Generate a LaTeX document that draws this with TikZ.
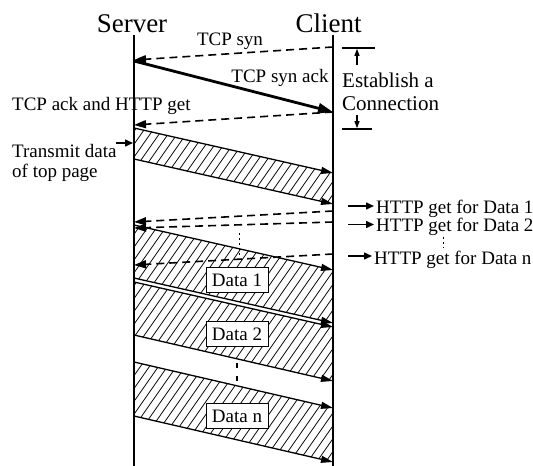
\documentclass[tikz,border=0pt]{standalone}
\usepackage{fontspec}
\setmainfont{Liberation Serif}
\usetikzlibrary{arrows.meta}
\begin{document}
\begin{tikzpicture}[x=1pt,y=-1pt,
  lbl/.style={inner sep=0pt,font=\fontsize{19}{21}\selectfont},
  biglbl/.style={inner sep=0pt,font=\fontsize{21}{23}\selectfont},
  ttl/.style={inner sep=0pt,font=\fontsize{27}{30}\selectfont},
  life/.style={line width=2pt},
  msg/.style={line width=1.6pt,dash pattern=on 8pt off 5pt,-{Triangle[length=12pt,width=8pt]}},
  synack/.style={line width=2.8pt,-{Triangle[length=15pt,width=10pt]}},
  dat/.style={line width=1.3pt,-{Triangle[length=12pt,width=7pt]}},
  hatchline/.style={line width=0.75pt},
  ptr/.style={line width=1.5pt,-{Triangle[length=8pt,width=7pt]}},
  brk/.style={line width=1.6pt},
  brkarrow/.style={line width=1.2pt,-{Triangle[length=7pt,width=5pt]}},
  databox/.style={draw,fill=white,line width=0.8pt,inner sep=0pt,minimum width=62pt,minimum height=25pt,font=\fontsize{19}{21}\selectfont},
  dots/.style={line width=0.8pt,dash pattern=on 2pt off 3pt}
]
\useasboundingbox (0,0) rectangle (533,466);

% titles
\node[ttl,anchor=base] (srv) at (132,32) {Server};
\node[ttl,anchor=base] (cli) at (328.5,32) {Client};

% lifeline coordinates
\coordinate (stop) at (134,35);
\coordinate (sbot) at (134,466);
\coordinate (ctop) at (333,35);
\coordinate (cbot) at (333,466);

% block corner coordinates
\coordinate (b0a) at (134,128); \coordinate (b0b) at (333,173);
\coordinate (b0c) at (134,159); \coordinate (b0d) at (333,204);
\coordinate (b1a) at (134,225); \coordinate (b1b) at (333,270);
\coordinate (b1c) at (134,278); \coordinate (b1d) at (333,323);
\coordinate (b2a) at (134,282); \coordinate (b2b) at (333,327);
\coordinate (b2c) at (134,335); \coordinate (b2d) at (333,381);
\coordinate (bna) at (134,362); \coordinate (bnb) at (333,408);
\coordinate (bnc) at (134,416); \coordinate (bnd) at (333,462);

% hatching
\begin{scope}
  \clip (b0a) -- (b0b) -- (b0d) -- (b0c) -- cycle
        (b1a) -- (b1b) -- (b1d) -- (b1c) -- cycle
        (b2a) -- (b2b) -- (b2d) -- (b2c) -- cycle
        (bna) -- (bnb) -- (bnd) -- (bnc) -- cycle;
  \foreach \k in {0,...,65} {
    \draw[hatchline] (-220+9*\k,470) -- ++(329,-470);
  }
\end{scope}

% block edges
\draw[dat] (b0a) -- (b0b);
\draw[dat] (b0c) -- (b0d);
\draw[dat] (b1a) -- (b1b);
\draw[dat] (b1c) -- (b1d);
\draw[dat] (b2a) -- (b2b);
\draw[dat] (b2c) -- (b2d);
\draw[dat] (bna) -- (bnb);
\draw[dat] (bnc) -- (bnd);

% handshake messages
\coordinate (syn0) at (333,47);   \coordinate (syn1) at (134,60);
\coordinate (sa0) at (134,61);    \coordinate (sa1) at (333,112);
\coordinate (ack0) at (333,112);  \coordinate (ack1) at (134,125);
\draw[msg] (syn0) -- (syn1);
\draw[synack] (sa0) -- (sa1);
\draw[msg] (ack0) -- (ack1);

% HTTP gets
\coordinate (g10) at (333,211);  \coordinate (g11) at (134,222);
\coordinate (g20) at (333,222);  \coordinate (g21) at (134,228);
\coordinate (gn0) at (333,254);  \coordinate (gn1) at (134,265);
\draw[msg] (g10) -- (g11);
\draw[msg] (g20) -- (g21);
\draw[msg] (gn0) -- (gn1);
\coordinate (vd0) at (239,233); \coordinate (vd1) at (239,258);
\draw[dots] (vd0) -- (vd1);

% lifelines
\draw[life] (stop) -- (sbot);
\draw[life] (ctop) -- (cbot);

% labels
\node[lbl,anchor=base] (lsyn) at (230,45.5) {TCP syn};
\node[lbl,anchor=base] (lsa) at (280,82) {TCP syn ack};
\node[lbl,anchor=base west] (lack) at (12,110) {TCP ack and HTTP get};
\node[biglbl,anchor=base west] (lest) at (342,87) {Establish a};
\node[biglbl,anchor=base west] (lcon) at (342,110) {Connection};
\node[lbl,anchor=base west] (ltr1) at (12,157) {Transmit data};
\node[lbl,anchor=base west] (ltr2) at (12,177) {of top page};

% bracket
\coordinate (bt0) at (342,48); \coordinate (bt1) at (375,48);
\coordinate (bb0) at (342,129); \coordinate (bb1) at (372,129);
\draw[brk] (bt0) -- (bt1);
\draw[brk] (bb0) -- (bb1);
\coordinate (ba0) at (357,65); \coordinate (ba1) at (357,48.8);
\coordinate (bc0) at (357,115); \coordinate (bc1) at (357,128.2);
\draw[brkarrow] (ba0) -- (ba1);
\draw[brkarrow] (bc0) -- (bc1);

% transmit pointer
\coordinate (tp0) at (116,143); \coordinate (tp1) at (133,143);
\draw[ptr] (tp0) -- (tp1);

% right labels
\node[lbl,anchor=base west] (h1) at (376,213) {HTTP get for Data 1};
\node[lbl,anchor=base west] (h2) at (376,231) {HTTP get for Data 2};
\node[lbl,anchor=base west] (hn) at (374,264) {HTTP get for Data n};
\coordinate (p10) at (348,206); \coordinate (p11) at (374,206);
\coordinate (p20) at (348,224.5); \coordinate (p21) at (374,224.5);
\coordinate (pn0) at (348,256); \coordinate (pn1) at (372,256);
\draw[ptr] (p10) -- (p11);
\draw[ptr] (p20) -- (p21);
\draw[ptr] (pn0) -- (pn1);
\coordinate (sd0) at (443,237); \coordinate (sd1) at (443,248);
\draw[dots] (sd0) -- (sd1);

% data boxes
\node[databox] (d1) at (237,280) {Data 1};
\node[databox] (d2) at (237,334) {Data 2};
\node[databox] (dn) at (237,416) {Data n};

% dots between blocks
\coordinate (md0) at (237,363); \coordinate (md1) at (237,382);
\draw[line width=1.6pt,dash pattern=on 5pt off 8pt] (md0) -- (md1);
\end{tikzpicture}
\end{document}
